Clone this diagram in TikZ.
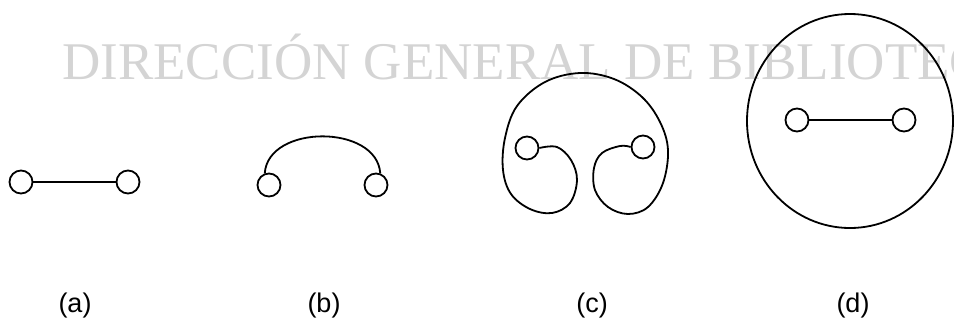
\documentclass[tikz,border=0pt]{standalone}
\usepackage{fontspec}
\setmainfont{Liberation Serif}
\newfontfamily\labelfont{Liberation Sans}
\usepackage{tikz}
\usetikzlibrary{calc}

\tikzset{
  ring/.style={draw, circle, line width=1.8pt, inner sep=0pt, minimum size=23pt},
  wire/.style={line width=1.8pt},
  caption/.style={anchor=base, font=\labelfont\fontsize{27}{31}\selectfont},
}

\begin{document}
\begin{tikzpicture}[x=1pt, y=-1pt]
\useasboundingbox (0,0) rectangle (954,325);
\clip (0,0) rectangle (954,325);

% watermark
\node[anchor=base west, inner sep=0pt, text=black!17, font=\fontsize{53}{60}\selectfont] (wm) at (62,79) {DIRECCIÓN GENERAL DE BIBLIOTEC};

% (a)
\node[ring] (a1) at (21,182) {};
\node[ring] (a2) at (128,182) {};
\draw[wire] (a1) -- (a2);

% (b)
\node[ring] (b1) at (269,185) {};
\node[ring] (b2) at (376,185) {};
\draw[wire] (b1.110) .. controls (268,124) and (377,124) .. (b2.70);

% (c)
\node[ring] (c1) at (527,148) {};
\node[ring] (c2) at (643,147) {};
\draw[wire] plot[smooth, tension=0.6] coordinates {
  (c1.east) (557,147) (571,160) (577,180) (570,203) (552,213) (530,209)
  (511,194) (503,170) (505,138) (517,106) (545,82) (580,73) (614,79)
  (642,97) (660,122) (668,150) (663,183) (648,207) (628,214) (608,207)
  (595,190) (594,168) (602,153) (620,146) (c2.west)};

% (d)
\draw[wire] (850,121) ellipse [x radius=103, y radius=107];
\node[ring] (d1) at (797,120) {};
\node[ring] (d2) at (904,120) {};
\draw[wire] (d1) -- (d2);

% labels
\node[caption] (la) at (75,312) {(a)};
\node[caption] (lb) at (324,312) {(b)};
\node[caption] (lc) at (592,312) {(c)};
\node[caption] (ld) at (853,312) {(d)};
\end{tikzpicture}
\end{document}
